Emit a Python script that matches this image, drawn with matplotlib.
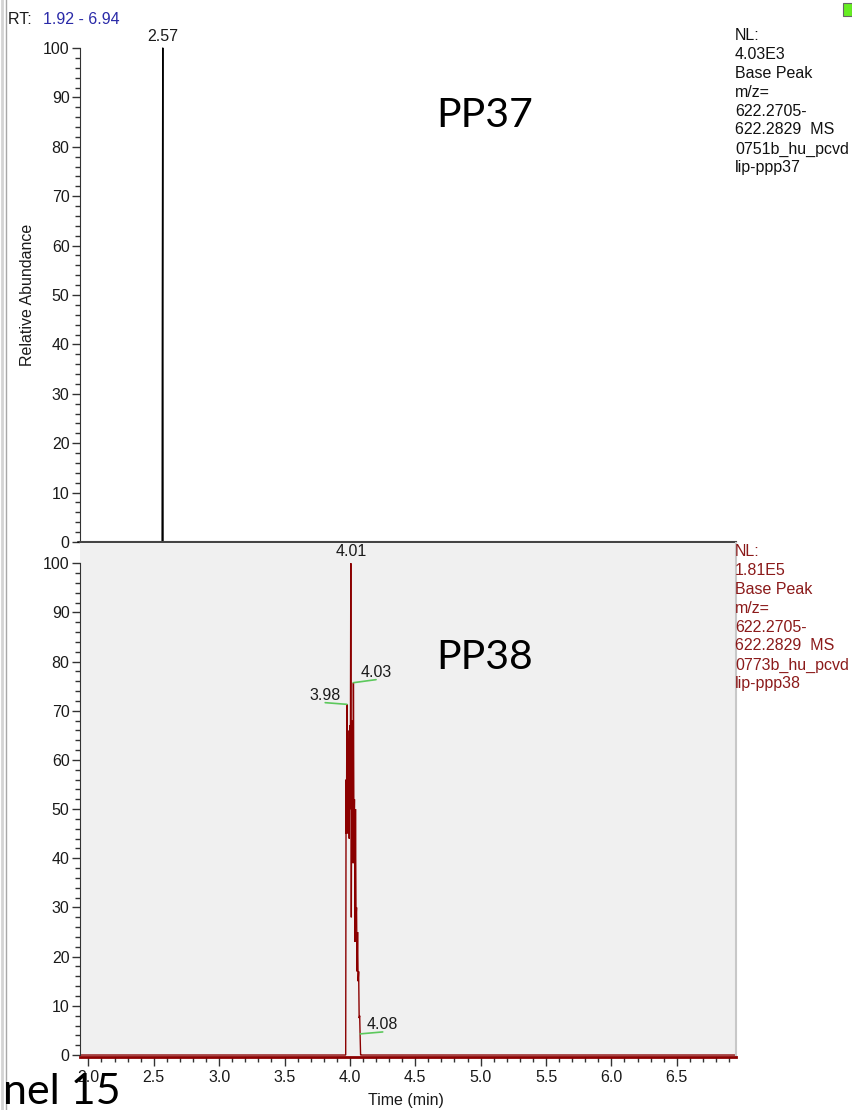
import matplotlib
matplotlib.use("Agg")
import matplotlib.pyplot as plt
from matplotlib.ticker import MultipleLocator, FixedLocator
from matplotlib.patches import Rectangle
from matplotlib.lines import Line2D

plt.rcParams['font.family'] = ['Liberation Sans', 'DejaVu Sans']

# ---- data ----
# PP37 (top) base peak trace, relative abundance %
top_time = [1.92, 2.564, 2.566, 2.569, 2.571, 6.94]
top_int = [0, 0, 50, 100, 0, 0]
top_peak_rt = [2.570]
top_peak_int = [100]
top_peak_lbl = ["2.57"]

# PP38 (bottom) base peak trace
bot_time = [1.92, 3.960, 3.968, 3.971, 3.974, 3.977, 3.981, 3.984, 3.988, 3.991,
            3.995, 3.999, 4.003, 4.007, 4.011, 4.015, 4.018, 4.022, 4.025, 4.027,
            4.031, 4.035, 4.039, 4.043, 4.047, 4.051, 4.055, 4.059, 4.063, 4.067,
            4.071, 4.075, 4.078, 4.082, 4.086, 6.94]
bot_int = [0, 0, 0, 56, 45, 71.3, 46, 66, 45, 62,
           44, 67, 50, 100, 28, 68, 40, 65, 39, 75.7,
           45, 52, 23, 50, 28, 30, 17, 25, 15, 17,
           7.5, 8, 4.3, 0, 0, 0]
bot_peak_rt = [3.977, 4.027, 4.078]
bot_peak_int = [71.3, 75.7, 4.3]
bot_peak_lbl = ["3.98", "4.03", "4.08"]
bot_top_rt = 4.007
bot_top_lbl = "4.01"

info_top = ["NL:", "4.03E3", "Base Peak", "m/z=", "622.2705-", "622.2829  MS",
            "0751b_hu_pcvd", "lip-ppp37"]
info_bot = ["NL:", "1.81E5", "Base Peak", "m/z=", "622.2705-", "622.2829  MS",
            "0773b_hu_pcvd", "lip-ppp38"]

W_PX, H_PX = 852, 1110
fig = plt.figure(figsize=(W_PX / 100, H_PX / 100), dpi=100)


def fx(px):
    return px / W_PX


def fy(py):
    return 1 - py / H_PX


xlim = (1.936, 6.953)
left, width = fx(80), 656 / W_PX
ax1 = fig.add_axes([left, fy(542), width, (542 - 48) / H_PX])
ax2 = fig.add_axes([left, fy(1057), width, (1057 - 543) / H_PX])

dark = '#333333'
txt = '#1a1a1a'

# ---- top panel ----
ax1.plot(top_time, top_int, color='black', lw=1.0, clip_on=False)
ax1.set_xlim(*xlim)
ax1.set_ylim(0, 100)
for s in ['top', 'right']:
    ax1.spines[s].set_visible(False)
ax1.spines['left'].set_color(dark)
ax1.spines['bottom'].set_color('#444444')
ax1.spines['bottom'].set_linewidth(1.5)
ax1.set_xticks([])
ax1.yaxis.set_major_locator(MultipleLocator(10))
ax1.yaxis.set_minor_locator(FixedLocator(list(range(0, 101, 2))))
for rt, val, lbl in zip(top_peak_rt, top_peak_int, top_peak_lbl):
    ax1.annotate(lbl, (rt, val), xytext=(0, 3), textcoords='offset points',
                 ha='center', va='bottom', fontsize=11.5, color=txt)

# ---- bottom panel ----
ax2.set_facecolor('#f0f0f0')
ax2.plot(bot_time, bot_int, color='#8b0000', lw=1.0, solid_joinstyle='miter')
ax2.set_xlim(*xlim)
ax2.set_ylim(-0.4, 104.1)
ax2.spines['top'].set_visible(False)
ax2.spines['left'].set_color(dark)
ax2.spines['left'].set_bounds(0, 100)
ax2.spines['right'].set_color('#c8c8c8')
ax2.spines['right'].set_linewidth(1.5)
ax2.spines['bottom'].set_color('#8b0000')
ax2.spines['bottom'].set_linewidth(2)
ax2.yaxis.set_major_locator(MultipleLocator(10))
ax2.yaxis.set_minor_locator(FixedLocator(list(range(0, 101, 2))))
ax2.xaxis.set_major_locator(MultipleLocator(0.5))
ax2.xaxis.set_minor_locator(MultipleLocator(0.1))
ax2.xaxis.set_major_formatter(plt.FormatStrFormatter('%.1f'))

ax2.annotate(bot_top_lbl, (bot_top_rt, 100), xytext=(0, 3), textcoords='offset points',
             ha='center', va='bottom', fontsize=11.5, color=txt)
offsets = [(-15.6, 1.2), (16.3, 2.2), (16.3, 1.4)]
for rt, val, lbl, off in zip(bot_peak_rt, bot_peak_int, bot_peak_lbl, offsets):
    ax2.annotate(lbl, (rt, val), xytext=off, textcoords='offset points',
                 ha='center', va='bottom', fontsize=11.5, color=txt,
                 arrowprops=dict(arrowstyle='-', color='#5cc85c', lw=1.2,
                                 patchA=None, shrinkA=0, shrinkB=0,
                                 relpos=(0.5, 0.0)))

for ax in (ax1, ax2):
    ax.tick_params(axis='both', which='major', length=6, width=1, colors=dark,
                   labelcolor=txt, labelsize=11.5, pad=1.5, direction='out')
    ax.tick_params(axis='both', which='minor', length=3.8, width=1, colors=dark,
                   direction='out')
ax2.tick_params(axis='x', which='major', length=6.5, pad=3)

# ---- labels and annotations ----
fig.text(fx(28), fy(295), "Relative Abundance", rotation=90, ha='center',
         va='center', fontsize=11.5, color=txt)
fig.text(fx(406), fy(1100), "Time (min)", ha='center', va='center',
         fontsize=11.5, color=txt)

fig.text(fx(8), fy(24), "RT: ", ha='left', va='baseline', fontsize=11.5,
         color=txt)
fig.text(fx(43), fy(24), "1.92 - 6.94", ha='left', va='baseline', fontsize=11.5,
         color='#2a2aa8')

for i, line in enumerate(info_top):
    fig.text(fx(735), fy(40 + i * 18.9), line, ha='left', va='baseline',
             fontsize=11.5, color='#111111')
for i, line in enumerate(info_bot):
    fig.text(fx(735), fy(556 + i * 18.9), line, ha='left', va='baseline',
             fontsize=11.5, color='#8b1a1a')

fig.text(fx(436), fy(127), "PP37", ha='left', va='baseline', fontsize=29.5,
         family='Lato', color='black')
fig.text(fx(436), fy(669), "PP38", ha='left', va='baseline', fontsize=29.5,
         family='Lato', color='black')
fig.text(fx(3), fy(1104), "nel 15", ha='left', va='baseline', fontsize=31,
         family='Lato', color='black')

# window border on the left and the small green marker top right
fig.add_artist(Line2D([fx(1.5), fx(1.5)], [0, 1], color='#d4d4d4', lw=2))
fig.add_artist(Line2D([fx(5.5), fx(5.5)], [0, 1], color='#a8a8a8', lw=1))
fig.add_artist(Rectangle((fx(843), fy(16)), 9 / W_PX, 13 / H_PX,
                         facecolor='#66ee22', edgecolor='#666666', lw=0.8))

fig.savefig("out.png", dpi=100)
